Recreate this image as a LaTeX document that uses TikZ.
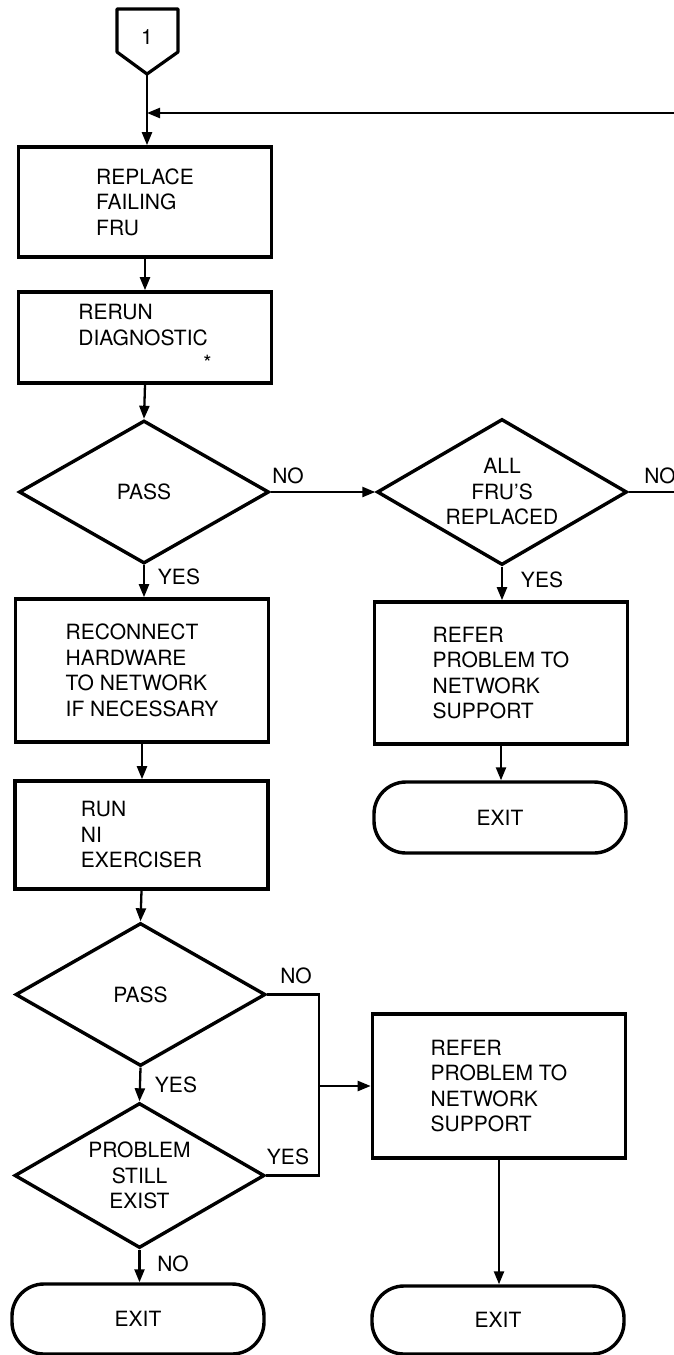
\documentclass[tikz,border=0pt]{standalone}
\usepackage{fontspec}
\setmainfont{TeX Gyre Heros}
\usetikzlibrary{shapes.geometric,arrows.meta}

\tikzset{
  box/.style={draw, line width=3.6pt, rectangle, align=left, inner sep=0pt,
    minimum width=253pt},
  test/.style={draw, line width=3.4pt, diamond, align=center, inner sep=0pt,
    shape aspect=1.74, minimum width=250pt, minimum height=144pt},
  stop/.style={draw, line width=3.4pt, rectangle, rounded corners=32pt,
    inner sep=0pt, minimum width=252pt},
  lbl/.style={inner sep=0pt},
  flow/.style={line width=2.3pt, -{Triangle[length=13pt,width=10pt]}},
  line/.style={line width=2.3pt},
}

\begin{document}
\begin{tikzpicture}[x=1pt, y=-1pt, font=\fontsize{21}{25.5}\selectfont]
  \useasboundingbox (0,0) rectangle (674,1355);

  % off-page connector
  \draw[line width=3.2pt, line join=round] (117,9) -- (178,9) -- (178,52) -- (147,74) -- (117,52) -- cycle;
  \node (p1) at (147,37) {1};
  \coordinate (p1tip) at (147,74);
  \coordinate (j1) at (147,113);
  \coordinate (back) at (674,113);

  % left column
  \node[box, minimum height=110pt] (b1) at (145,202) {REPLACE\\FAILING\\FRU};
  \node[box, minimum height=91pt] (b2) at (145,337.5) {RERUN\\DIAGNOSTIC\\\hspace*{125pt}*};
  \node[test, minimum height=143pt] (d1) at (144,492) {PASS};
  \node[box, minimum height=143pt] (b3) at (142,670.5) {RECONNECT\\HARDWARE\\TO NETWORK\\IF NECESSARY};
  \node[box, minimum height=108pt] (b4) at (141.5,835) {RUN\\NI\\EXERCISER};
  \node[test, minimum height=143pt] (d3) at (140.5,994.5) {PASS};
  \node[test, minimum height=145pt] (d4) at (139.5,1175.5) {PROBLEM\\STILL\\EXIST};
  \node[stop, minimum height=70pt] (e2) at (138,1319) {EXIT};

  % right column
  \node[test, minimum height=146pt] (d2) at (502,492) {ALL\\FRU'S\\REPLACED};
  \coordinate (more) at (674,492);
  \node[box, minimum height=142pt] (b5) at (501,673) {REFER\\PROBLEM TO\\NETWORK\\SUPPORT};
  \node[stop, minimum height=71pt] (e1) at (500,817.5) {EXIT};
  \node[box, minimum height=144pt] (b6) at (499,1086) {REFER\\PROBLEM TO\\NETWORK\\SUPPORT};
  \node[stop, minimum height=68pt] (e3) at (498,1320) {EXIT};

  % connectors
  \draw[line] (p1tip) -- (j1);
  \draw[flow] (j1) -- (j1 |- b1.north);
  \draw[flow] (back) -- (j1);
  \draw[flow] (b1.south) -- (b2.north);
  \draw[flow] (b2.south) -- (d1.north);
  \draw[flow] (d1.east) -- (d2.west);
  \draw[line] (d2.east) -- (more);
  \draw[flow] (d1.south) -- (d1.south |- b3.north);
  \draw[flow] (d2.south) -- (d2.south |- b5.north);
  \draw[flow] (b3.south) -- (b3.south |- b4.north);
  \draw[flow] (b5.south) -- (b5.south |- e1.north);
  \draw[flow] (b4.south) -- (d3.north);
  \draw[flow] (d3.south) -- (d4.north);
  \draw[flow] (d4.south) -- (d4.south |- e2.north);
  \coordinate (m1) at (319,1086);
  \draw[line] (d3.east) -| (m1);
  \draw[line] (d4.east) -| (m1);
  \draw[flow] (m1) -- (b6.west);
  \draw[flow] (b6.south) -- (b6.south |- e3.north);

  % labels
  \node[lbl] (no1) at (288,476) {NO};
  \node[lbl] (no2) at (660,476) {NO};
  \node[lbl] (yes1) at (179,577) {YES};
  \node[lbl] (yes2) at (542,580) {YES};
  \node[lbl] (no3) at (296,976) {NO};
  \node[lbl] (yes3) at (176,1085) {YES};
  \node[lbl] (yes4) at (288,1157) {YES};
  \node[lbl] (no4) at (173,1264) {NO};
\end{tikzpicture}
\end{document}
